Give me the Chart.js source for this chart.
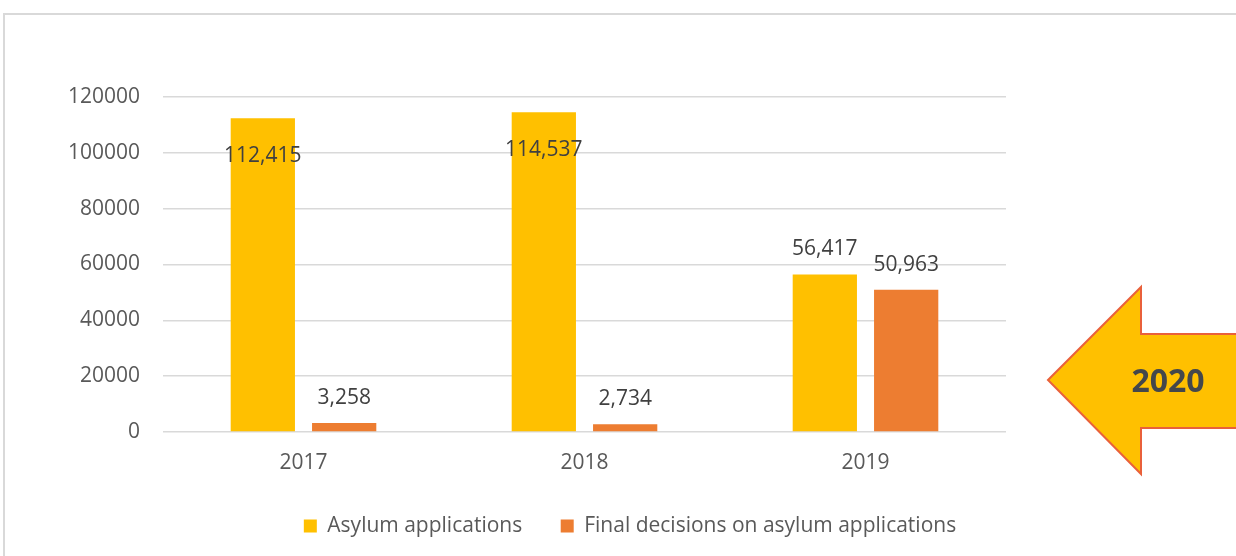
<!DOCTYPE html>
<html>
<head>
<meta charset="utf-8">
<script src="https://cdn.jsdelivr.net/npm/chart.js@4"></script>
<style>
  html, body { margin: 0; padding: 0; background: #ffffff; }
  #wrap { width: 1236px; height: 556px; position: relative; }
</style>
</head>
<body>
<div id="wrap"><canvas id="chart" width="1236" height="556"></canvas></div>
<script>
// Yearly figures
const categories = ['2017', '2018', '2019'];
const asylumApplications = [112415, 114537, 56417];
const finalDecisions = [3258, 2734, 50963];
const seriesNames = ['Asylum applications', 'Final decisions on asylum applications'];
const yTicks = [0, 20000, 40000, 60000, 80000, 100000, 120000];
const calloutText = '2020';

const FONT = '"Open Sans", "Noto Sans", sans-serif';

// Light frame around the chart
const framePlugin = {
  id: 'frame',
  beforeDraw(chart) {
    const ctx = chart.ctx;
    ctx.save();
    ctx.fillStyle = '#ffffff';
    ctx.fillRect(0, 0, chart.width, chart.height);
    ctx.strokeStyle = '#d9d9d9';
    ctx.lineWidth = 2;
    ctx.strokeRect(4, 14, chart.width + 20, chart.height + 20);
    ctx.restore();
  }
};

// Value labels above each bar (inside the bar when there is no room above)
const valueLabels = {
  id: 'valueLabels',
  afterDatasetsDraw(chart) {
    const ctx = chart.ctx;
    const area = chart.chartArea;
    ctx.save();
    ctx.font = '21px ' + FONT;
    ctx.fillStyle = '#404040';
    ctx.textAlign = 'center';
    ctx.textBaseline = 'middle';
    chart.data.datasets.forEach((ds, di) => {
      const meta = chart.getDatasetMeta(di);
      meta.data.forEach((bar, i) => {
        const text = ds.data[i].toLocaleString('en-US');
        let y = bar.y - 25;
        if (y - 12 < area.top) y = bar.y + 38;
        ctx.fillText(text, bar.x, y);
      });
    });
    ctx.restore();
  }
};

// Left-pointing block arrow with a year label
const calloutArrow = {
  id: 'calloutArrow',
  afterDraw(chart) {
    const ctx = chart.ctx;
    ctx.save();
    ctx.beginPath();
    ctx.moveTo(1048, 380);
    ctx.lineTo(1141, 287);
    ctx.lineTo(1141, 334);
    ctx.lineTo(1245, 334);
    ctx.lineTo(1245, 428);
    ctx.lineTo(1141, 428);
    ctx.lineTo(1141, 474);
    ctx.closePath();
    ctx.fillStyle = '#ffc000';
    ctx.fill();
    ctx.strokeStyle = '#e9603b';
    ctx.lineWidth = 2;
    ctx.lineJoin = 'miter';
    ctx.stroke();
    ctx.font = 'bold 32px ' + FONT;
    ctx.fillStyle = '#44474b';
    ctx.textAlign = 'center';
    ctx.textBaseline = 'middle';
    ctx.fillText(calloutText, 1168, 383);
    ctx.restore();
  }
};

new Chart(document.getElementById('chart'), {
  type: 'bar',
  data: {
    labels: categories,
    datasets: [
      {
        label: seriesNames[0],
        data: asylumApplications,
        backgroundColor: '#ffc000',
        barPercentage: 0.79,
        categoryPercentage: 0.579
      },
      {
        label: seriesNames[1],
        data: finalDecisions,
        backgroundColor: '#ed7d31',
        barPercentage: 0.79,
        categoryPercentage: 0.579
      }
    ]
  },
  options: {
    responsive: false,
    animation: false,
    layout: { padding: { left: 24, right: 0, top: 97, bottom: 9.5 } },
    plugins: {
      title: { display: false },
      tooltip: { enabled: false },
      legend: {
        position: 'bottom',
        labels: {
          font: { family: FONT, size: 21 },
          color: '#595959',
          boxWidth: 13,
          boxHeight: 13,
          padding: 38.5
        }
      }
    },
    scales: {
      x: {
        grid: { display: false, drawTicks: false },
        border: { display: false },
        ticks: { font: { family: FONT, size: 21 }, color: '#595959', padding: 18 },
        afterFit(s) { s.height = 45; }
      },
      y: {
        min: yTicks[0],
        max: yTicks[yTicks.length - 1],
        afterBuildTicks(s) { s.ticks = yTicks.map(v => ({ value: v })); },
        grid: { color: '#d9d9d9', lineWidth: 1.6, drawTicks: false },
        border: { display: false },
        ticks: {
          font: { family: FONT, size: 21 },
          color: '#595959',
          padding: 23,
          callback: v => String(v)
        },
        afterFit(s) { s.width = 139; }
      },
      side: {
        position: 'right',
        grid: { display: false, drawTicks: false },
        border: { display: false },
        ticks: { display: false },
        afterFit(s) { s.width = 230; }
      }
    }
  },
  plugins: [framePlugin, valueLabels, calloutArrow]
});
</script>
</body>
</html>
